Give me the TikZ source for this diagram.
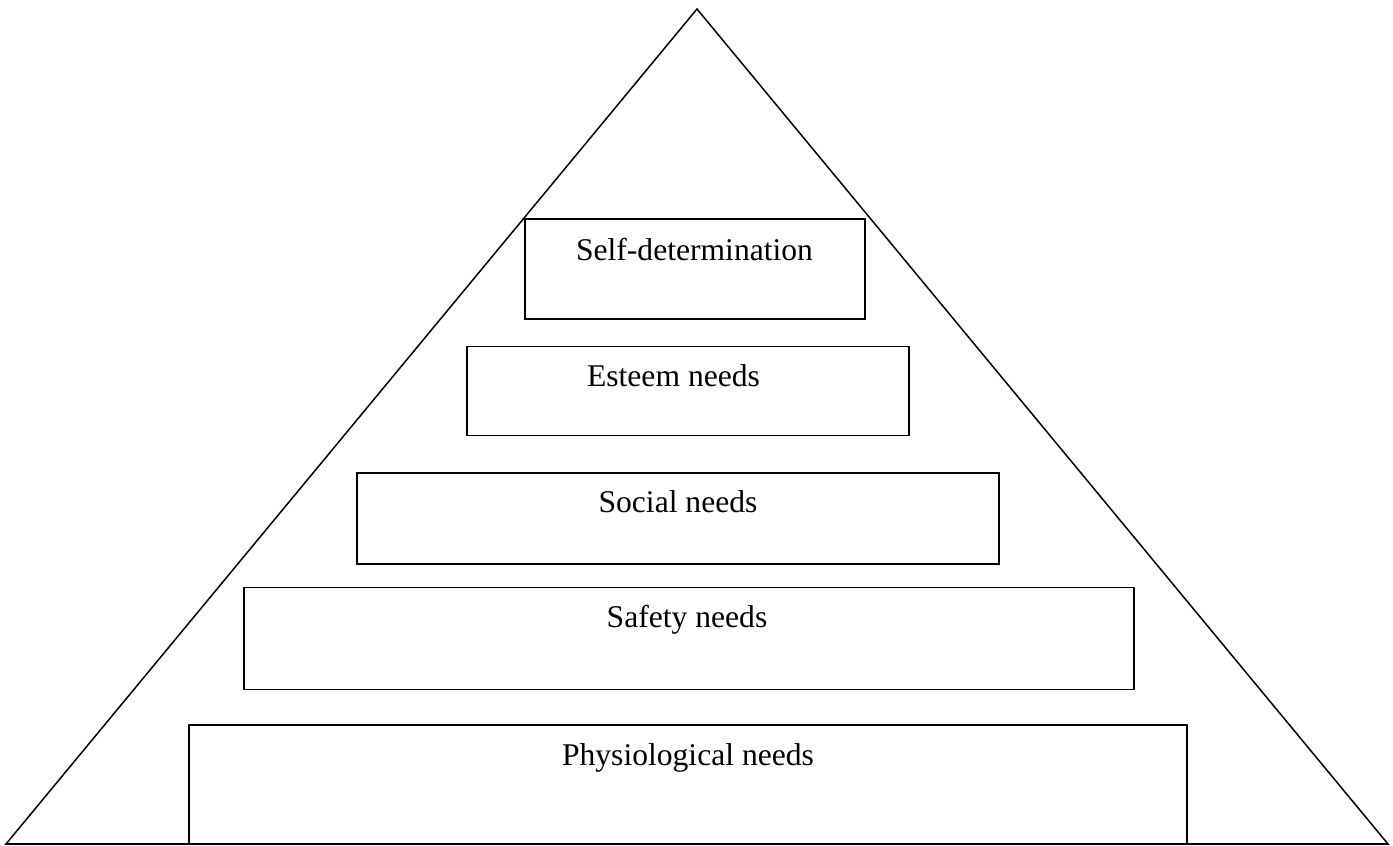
\documentclass[tikz,border=0pt]{standalone}
\usepackage{fontspec}
\setmainfont{Liberation Serif}
\begin{document}
\begin{tikzpicture}[x=1pt,y=-1pt,
  tier/.style={draw=black,line width=1.5pt,fill=white,rectangle,inner sep=0pt},
  lbl/.style={anchor=base,inner sep=0pt,font=\fontsize{31.6}{36}\selectfont}]
\useasboundingbox (0,0) rectangle (1393,846);
\coordinate (apex) at (697,9);
\coordinate (bl) at (6,844);
\coordinate (br) at (1388,844);
\draw[line width=1.5pt,line join=miter] (bl) -- (apex) -- (br) -- cycle;
\node[tier,minimum width=340pt,minimum height=100pt] (b1) at (695,269) {};
\node[tier,minimum width=442pt,minimum height=89pt] (b2) at (688,391) {};
\node[tier,minimum width=642pt,minimum height=91pt] (b3) at (678,518.5) {};
\node[tier,minimum width=890pt,minimum height=102pt] (b4) at (689,638.5) {};
\node[tier,minimum width=998pt,minimum height=119pt] (b5) at (688,784.5) {};
\draw[line width=1.5pt] (bl) -- (br);
\node[lbl] (t1) at (694.5,260) {Self-determination};
\node[lbl] (t2) at (673.5,386) {Esteem needs};
\node[lbl] (t3) at (678,512) {Social needs};
\node[lbl] (t4) at (687,627) {Safety needs};
\node[lbl] (t5) at (688,765) {Physiological needs};
\end{tikzpicture}
\end{document}
